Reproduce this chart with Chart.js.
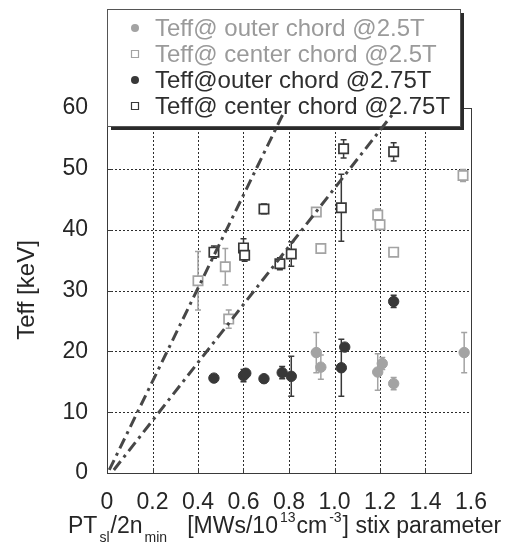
<!DOCTYPE html>
<html>
<head>
<meta charset="utf-8">
<script src="https://cdn.jsdelivr.net/npm/chart.js@4.4.0/dist/chart.umd.min.js"></script>
<style>
  html, body { margin: 0; padding: 0; background: #fff; }
  #wrap { position: relative; width: 515px; height: 545px; }
</style>
</head>
<body>
<div id="wrap"><canvas id="teffChart" width="515" height="545"></canvas></div>
<script>
// values (x = stix parameter, y = Teff keV, err = half error bar)
var outer25X = [0.92, 0.94, 1.19, 1.21, 1.26, 1.57];
var outer25Y = [19.8, 17.4, 16.6, 18.0, 14.7, 19.8];
var outer25Err = [3.3, 2.0, 3.0, 1.0, 1.0, 3.3];

var center25X = [0.40, 0.52, 0.535, 0.92, 0.94, 1.19, 1.20, 1.26, 1.565];
var center25Y = [31.6, 33.9, 25.3, 42.9, 36.9, 42.4, 40.8, 36.3, 48.9];
var center25Err = [4.8, 3.0, 1.5, 0, 0, 1.0, 0, 0, 1.0];

var outer275X = [0.47, 0.60, 0.61, 0.69, 0.77, 0.81, 1.03, 1.045, 1.26];
var outer275Y = [15.6, 16.0, 16.4, 15.5, 16.5, 15.9, 17.3, 20.7, 28.2];
var outer275Err = [0, 1.0, 0, 0, 1.0, 3.3, 4.7, 0, 1.0];

var center275X = [0.47, 0.60, 0.605, 0.69, 0.76, 0.81, 1.03, 1.04, 1.26];
var center275Y = [36.3, 37.0, 35.8, 43.4, 34.4, 36.0, 43.6, 53.3, 52.8];
var center275Err = [1.0, 1.5, 1.0, 0.8, 1.0, 2.0, 5.5, 1.5, 1.5];

// the two dash-dot guide lines
var steepLineX = [0.01, 0.78];
var steepLineY = [0.5, 59.5];
var shallowLineX = [0.03, 1.26];
var shallowLineY = [0.5, 59.2];

var legendLabels = [
  "Teff@ outer chord @2.5T",
  "Teff@ center chord @2.5T",
  "Teff@outer chord @2.75T",
  "Teff@ center chord @2.75T"
];

var xTicks = [0, 0.2, 0.4, 0.6, 0.8, 1, 1.2, 1.4, 1.6];
var yTicks = [0, 10, 20, 30, 40, 50, 60];

var LIGHT = "#a3a3a3";
var DARK = "#383838";
var TEXT = "#262626";
var FONT = "Liberation Sans, Arial, sans-serif";

function pts(xs, ys) {
  return xs.map(function (x, i) { return { x: x, y: ys[i] }; });
}

function scatterSet(label, xs, ys, errs, color, style) {
  var square = style === "rect";
  return {
    type: "scatter",
    label: label,
    data: pts(xs, ys),
    errors: errs,
    pointStyle: style,
    pointRadius: square ? 6.6 : 5.2,
    pointHoverRadius: square ? 6.6 : 5.2,
    pointBorderWidth: square ? 1.7 : 1,
    pointBackgroundColor: square ? "#fff" : color,
    pointBorderColor: color,
    borderColor: color,
    showLine: false
  };
}

function guideLine(xs, ys) {
  return {
    type: "line",
    data: pts(xs, ys),
    borderColor: "#474747",
    borderWidth: 3,
    borderDash: [11, 5, 3, 5],
    pointRadius: 0,
    fill: false
  };
}

function drawMarker(ctx, x, y, color, square) {
  ctx.beginPath();
  if (square) {
    ctx.fillStyle = "#fff";
    ctx.strokeStyle = color;
    ctx.lineWidth = 1.2;
    ctx.rect(x - 3.5, y - 3.5, 7, 7);
    ctx.fill();
    ctx.stroke();
  } else {
    ctx.fillStyle = color;
    ctx.arc(x, y, 4, 0, Math.PI * 2);
    ctx.fill();
  }
}

var paperPlugin = {
  id: "paper",
  beforeDatasetsDraw: function (chart) {
    var ctx = chart.ctx, a = chart.chartArea;
    var xs = chart.scales.x, ys = chart.scales.y;
    ctx.save();
    // dotted grid
    ctx.strokeStyle = "#2c2c2c";
    ctx.lineWidth = 1;
    ctx.setLineDash([2, 2]);
    xTicks.forEach(function (v) {
      var px = Math.round(xs.getPixelForValue(v)) + 0.5;
      ctx.beginPath();
      ctx.moveTo(px, a.top);
      ctx.lineTo(px, a.bottom);
      ctx.stroke();
    });
    yTicks.forEach(function (v) {
      var py = Math.round(ys.getPixelForValue(v)) + 0.5;
      ctx.beginPath();
      ctx.moveTo(a.left, py);
      ctx.lineTo(a.right, py);
      ctx.stroke();
    });
    ctx.setLineDash([]);

    // frame
    ctx.strokeStyle = "#3a3a3a";
    ctx.strokeRect(Math.round(a.left) + 0.5, Math.round(a.top) + 0.5,
      Math.round(a.right - a.left), Math.round(a.bottom - a.top));
    // small inward ticks
    xTicks.forEach(function (v) {
      var px = Math.round(xs.getPixelForValue(v)) + 0.5;
      ctx.beginPath();
      ctx.moveTo(px, a.bottom);
      ctx.lineTo(px, a.bottom - 5);
      ctx.stroke();
    });
    yTicks.forEach(function (v) {
      var py = Math.round(ys.getPixelForValue(v)) + 0.5;
      ctx.beginPath();
      ctx.moveTo(a.left, py);
      ctx.lineTo(a.left + 5, py);
      ctx.stroke();
    });

    // legend box with shadow
    var L = 107, T = 9, R = 460, B = 126;
    ctx.fillStyle = "#2a2a2a";
    ctx.fillRect(L + 4, T + 4, R - L, B - T);
    ctx.fillStyle = "#fff";
    ctx.fillRect(L, T, R - L, B - T);
    ctx.strokeStyle = "#555";
    ctx.strokeRect(L + 0.5, T + 0.5, R - L, B - T);
    ctx.font = "24px " + FONT;
    ctx.textBaseline = "middle";
    ctx.textAlign = "left";
    legendLabels.forEach(function (txt, i) {
      var cy = 28 + i * 26;
      var col = i < 2 ? LIGHT : DARK;
      drawMarker(ctx, 135, cy, col, i % 2 === 1);
      ctx.fillStyle = i < 2 ? "#9a9a9a" : "#2e2e2e";
      ctx.fillText(txt, 155, cy + 1);
    });

    // error bars, under the markers
    chart.data.datasets.forEach(function (ds) {
      if (!ds.errors) return;
      ctx.strokeStyle = ds.borderColor;
      ctx.lineWidth = 1.5;
      ds.data.forEach(function (p, i) {
        var e = ds.errors[i];
        if (!e) return;
        var px = xs.getPixelForValue(p.x);
        var top = ys.getPixelForValue(p.y + e);
        var bot = ys.getPixelForValue(p.y - e);
        ctx.beginPath();
        ctx.moveTo(px, top); ctx.lineTo(px, bot);
        ctx.moveTo(px - 3, top); ctx.lineTo(px + 3, top);
        ctx.moveTo(px - 3, bot); ctx.lineTo(px + 3, bot);
        ctx.stroke();
      });
    });
    ctx.restore();
  },
  afterDraw: function (chart) {
    var ctx = chart.ctx;
    ctx.save();
    ctx.fillStyle = TEXT;
    // y axis title
    ctx.font = "24px " + FONT;
    ctx.textAlign = "center";
    ctx.textBaseline = "middle";
    ctx.translate(27, 290);
    ctx.rotate(-Math.PI / 2);
    ctx.fillText("Teff [keV]", 0, 0);
    ctx.setTransform(1, 0, 0, 1, 0, 0);

    // x axis title with sub/superscripts
    var parts = [
      ["PT", 0], ["sl", 1], ["/2n", 0], ["min", 1], ["   [MWs/10", 0],
      ["13", -1], ["cm", 0], ["-3", -1], ["] stix parameter", 0]
    ];
    var x = 68, base = 533;
    ctx.textAlign = "left";
    ctx.textBaseline = "alphabetic";
    parts.forEach(function (p) {
      if (p[1] === 0) {
        ctx.font = "23px " + FONT;
        ctx.fillText(p[0], x, base);
      } else {
        ctx.font = "14px " + FONT;
        ctx.fillText(p[0], x + 2, p[1] > 0 ? base + 9 : base - 11);
      }
      x += ctx.measureText(p[0]).width + (p[1] !== 0 ? 3 : 0);
    });
    ctx.restore();
  }
};

new Chart(document.getElementById("teffChart").getContext("2d"), {
  type: "scatter",
  data: {
    datasets: [
      guideLine(steepLineX, steepLineY),
      guideLine(shallowLineX, shallowLineY),
      scatterSet(legendLabels[0], outer25X, outer25Y, outer25Err, LIGHT, "circle"),
      scatterSet(legendLabels[1], center25X, center25Y, center25Err, LIGHT, "rect"),
      scatterSet(legendLabels[2], outer275X, outer275Y, outer275Err, DARK, "circle"),
      scatterSet(legendLabels[3], center275X, center275Y, center275Err, DARK, "rect")
    ]
  },
  options: {
    responsive: false,
    animation: false,
    layout: { padding: { top: 108, right: 44, bottom: 0, left: 0 } },
    plugins: { legend: { display: false }, tooltip: { enabled: false } },
    scales: {
      x: {
        type: "linear",
        min: 0,
        max: 1.6,
        afterFit: function (s) { s.height = 72; },
        afterBuildTicks: function (s) { s.ticks = xTicks.map(function (v) { return { value: v }; }); },
        ticks: { color: TEXT, font: { family: FONT, size: 23 }, padding: 8 },
        grid: { display: false },
        border: { display: false }
      },
      y: {
        min: 0,
        max: 60,
        afterFit: function (s) { s.width = 107; },
        afterBuildTicks: function (s) { s.ticks = yTicks.map(function (v) { return { value: v }; }); },
        ticks: { color: TEXT, font: { family: FONT, size: 23 }, padding: 11 },
        grid: { display: false },
        border: { display: false }
      }
    }
  },
  plugins: [paperPlugin]
});
</script>
</body>
</html>
